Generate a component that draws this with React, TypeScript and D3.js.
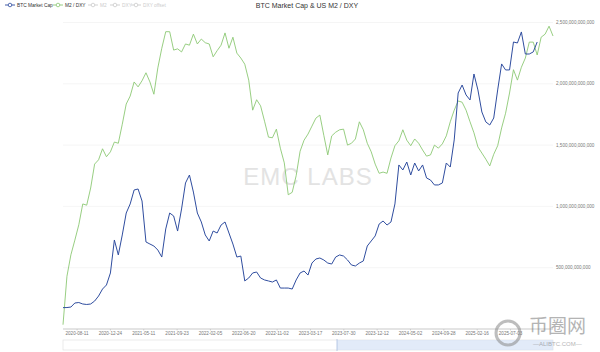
import React from "react";
import * as d3 from "d3";

// ---- data ----
const startDate = "2020-06-15";
const daysPerSample = 16;
const firstLabelOffsetDays = 57;
const labelIntervalDays = 135;

// BTC market cap, billions USD, one value per sample
const btcCapBillions = [
  174, 175, 179, 212, 216, 204, 200, 204, 228, 269,
  326, 359, 457, 726, 604, 767, 946, 1020, 1134, 1142,
  1044, 710, 693, 677, 644, 587, 816, 946, 922, 799,
  979, 1191, 1256, 1117, 946, 873, 767, 718, 799, 783,
  848, 873, 783, 693, 587, 595, 392, 416, 457, 465,
  416, 400, 392, 383, 400, 334, 334, 334, 326, 400,
  457, 473, 440, 538, 571, 579, 563, 538, 530, 587,
  604, 595, 563, 522, 514, 538, 555, 677, 718, 759,
  856, 881, 848, 873, 1020, 1338, 1297, 1362, 1256, 1354,
  1289, 1338, 1232, 1215, 1175, 1175, 1191, 1354, 1321, 1542,
  1925, 1990, 1909, 1868, 2080, 1950, 1770, 1689, 1664, 1721,
  1950, 2162, 2113, 2113, 2341, 2333, 2423, 2243, 2243, 2260,
  2341,
];

// US M2 / DXY, one value per sample (right hidden axis)
const m2OverDxy = [
  180.7, 188.6, 192.1, 194.5, 197.0, 200.4, 200.2, 203.0, 206.9, 207.6,
  209.4, 208.1, 208.9, 210.5, 210.3, 213.4, 216.7, 218.0, 220.3, 219.5,
  220.5, 221.8, 220.3, 218.3, 222.6, 225.8, 228.5, 228.5, 225.5, 225.7,
  225.2, 226.5, 226.3, 228.1, 226.5, 227.3, 226.7, 226.5, 224.4, 225.4,
  226.3, 228.3, 225.8, 227.6, 225.0, 224.2, 223.2, 220.6, 215.7, 217.4,
  216.4, 213.9, 211.3, 211.2, 212.6, 209.5, 207.1, 201.9, 202.3, 205.0,
  209.0, 210.8, 211.8, 213.1, 214.4, 214.9, 211.6, 208.4, 211.5, 212.1,
  212.5, 212.6, 210.0, 210.3, 211.0, 213.8, 212.5, 210.3, 208.9, 206.9,
  205.4, 205.6, 205.4, 207.9, 209.9, 210.7, 212.5, 210.8, 209.9, 211.0,
  210.3, 209.2, 208.2, 208.4, 210.0, 209.5, 210.2, 211.5, 213.8, 215.7,
  217.2, 217.0, 215.7, 213.8, 212.0, 209.7, 208.7, 207.7, 206.6, 208.5,
  209.9, 212.8, 215.2, 218.5, 222.3, 220.6, 222.7, 224.2, 226.8, 226.8,
  224.7, 227.6, 228.1, 229.4, 227.8,
];

const xTickLabels = [
  "2020-08-11", "2020-12-24", "2021-05-11", "2021-09-23", "2022-02-05",
  "2022-06-20", "2022-11-02", "2023-03-17", "2023-07-30", "2023-12-12",
  "2024-05-02", "2024-09-28", "2025-02-16", "2025-07-03",
];

const yTicks = [0, 5e11, 1e12, 1.5e12, 2e12, 2.5e12];
const yLabelTicks = [5e11, 1e12, 1.5e12, 2e12, 2.5e12];
const m2Domain = [180, 230];

const legendItems = [
  { name: "BTC Market Cap", active: true },
  { name: "M2 / DXY", active: true },
  { name: "M2", active: false },
  { name: "DXY", active: false },
  { name: "DXY offset", active: false },
];

const title = "BTC Market Cap & US M2 / DXY";

// ---- styles ----
const W = 600;
const H = 352;
const BLUE = "#2f4d9f";
const GREEN = "#8cc874";
const FONT = "'Liberation Sans', Arial, Helvetica, sans-serif";

export default function App() {
  const left = 63;
  const right = 553;
  const top = 22.5;
  const bottom = 329;

  const totalDays = (m2OverDxy.length - 1) * daysPerSample;
  const x = d3.scaleLinear().domain([0, totalDays]).range([left, right]);
  const y = d3.scaleLinear().domain([0, 2.5e12]).range([bottom, top]);
  const y2 = d3.scaleLinear().domain(m2Domain).range([bottom, top]);

  const btcLine = d3
    .line<number>()
    .x((_, i) => x(i * daysPerSample))
    .y((d) => y(d * 1e9));
  const m2Line = d3
    .line<number>()
    .x((_, i) => x(i * daysPerSample))
    .y((d) => y2(d));

  const fmt = d3.format(",.0f");

  const legendColors = [BLUE, GREEN, "#ccc", "#ccc", "#ccc"];
  const legendX = [5, 53, 88, 110, 131];

  const sliderTop = 340;
  const sliderH = 10;
  const selStart = 337;

  return (
    <svg
      width={W}
      height={H}
      style={{ position: "absolute", left: 0, top: 0, background: "#fff" }}
      fontFamily={FONT}
    >
      <rect x={0} y={0} width={W} height={H} fill="#fff" />
      {/* watermark */}
      <text
        x={308}
        y={185}
        textAnchor="middle"
        fontSize={24}
        fill="#e3e3e3"
        letterSpacing={1}
      >
        EMC LABS
      </text>

      {/* gridlines */}
      {yTicks.map((t) => (
        <line
          key={t}
          x1={left}
          x2={right}
          y1={y(t)}
          y2={y(t)}
          stroke={t === 0 ? "#bbb" : "#eee"}
          strokeWidth={t === 0 ? 0.8 : 0.6}
        />
      ))}
      {yLabelTicks.map((t) => (
        <text
          key={"l" + t}
          x={556}
          y={y(t)}
          dy="0.35em"
          fontSize={4.6}
          fill="#777"
        >
          {fmt(t)}
        </text>
      ))}

      {/* x tick labels */}
      {xTickLabels.map((lab, k) => {
        const px = x(firstLabelOffsetDays + k * labelIntervalDays);
        return (
          <g key={lab}>
            <line x1={px} x2={px} y1={bottom} y2={bottom + 1.5} stroke="#bbb" strokeWidth={0.6} />
            <text x={px} y={333.5} dy="0.35em" textAnchor="middle" fontSize={4.6} fill="#777">
              {lab}
            </text>
          </g>
        );
      })}

      {/* series */}
      <path d={m2Line(m2OverDxy) || ""} fill="none" stroke={GREEN} strokeWidth={0.9} />
      <path d={btcLine(btcCapBillions) || ""} fill="none" stroke={BLUE} strokeWidth={1} />

      {/* title */}
      <text x={307} y={6} dy="0.35em" textAnchor="middle" fontSize={7} fill="#333">
        {title}
      </text>

      {/* legend */}
      {legendItems.map((it, i) => (
        <g key={it.name}>
          <line
            x1={legendX[i]}
            x2={legendX[i] + 10}
            y1={5}
            y2={5}
            stroke={legendColors[i]}
            strokeWidth={0.9}
          />
          <circle cx={legendX[i] + 5} cy={5} r={1.8} fill="#fff" stroke={legendColors[i]} strokeWidth={0.8} />
          <text
            x={legendX[i] + 12}
            y={5}
            dy="0.35em"
            fontSize={4.8}
            fill={it.active ? "#333" : "#ccc"}
          >
            {it.name}
          </text>
        </g>
      ))}

      {/* data zoom slider */}
      <rect x={left} y={sliderTop} width={right - left} height={sliderH} fill="none" stroke="#ddd" strokeWidth={0.6} />
      <rect x={selStart} y={sliderTop} width={right - selStart} height={sliderH} fill="#d6e2f6" opacity={0.7} />
      <line x1={selStart} x2={selStart} y1={sliderTop - 1} y2={sliderTop + sliderH + 1} stroke="#a8bde0" strokeWidth={0.8} />

      {/* site watermark bottom right */}
      <g opacity={0.55}>
        <circle cx={508} cy={333} r={12} fill="none" stroke="#888" strokeWidth={3} />
        <text x={529} y={333} fontSize={19} fill="#777" fontFamily="'Noto Sans CJK SC', sans-serif">
          币圈网
        </text>
        <text x={533} y={346} fontSize={6} fill="#777">
          —ALIBTC.COM—
        </text>
      </g>
    </svg>
  );
}
